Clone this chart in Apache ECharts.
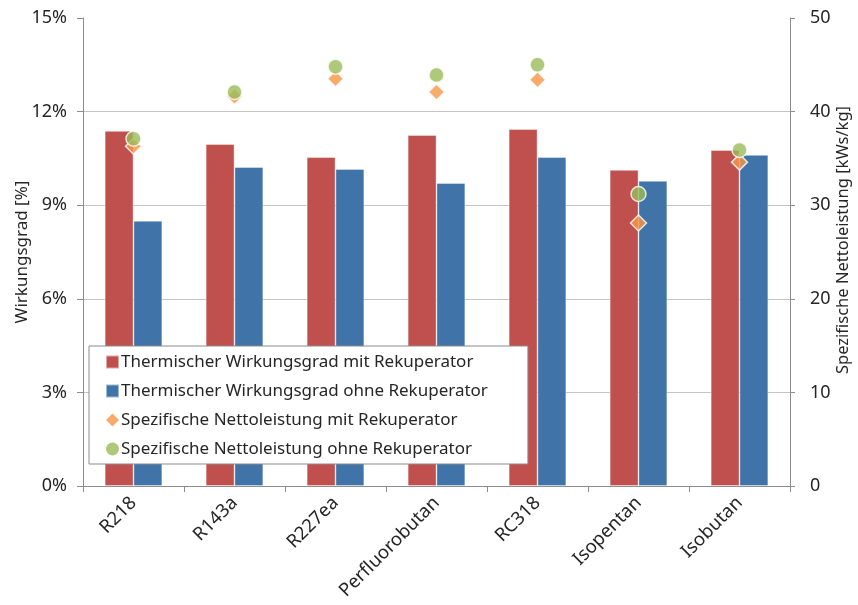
<!DOCTYPE html>
<html><head><meta charset="utf-8">
<script src="https://cdn.jsdelivr.net/npm/echarts@6/dist/echarts.min.js"></script>
<style>html,body{margin:0;padding:0;background:#fff}#c{width:858px;height:605px}</style>
</head><body><div id="c"></div>
<script>
const categories = ['R218','R143a','R227ea','Perfluorobutan','RC318','Isopentan','Isobutan'];
const effMit  = [0.1138, 0.1096, 0.1054, 0.1125, 0.1144, 0.1013, 0.1077];
const effOhne = [0.0850, 0.1022, 0.1016, 0.0971, 0.1054, 0.0978, 0.1061];
const powMit  = [36.3, 41.6, 43.5, 42.1, 43.4, 28.1, 34.6];
const powOhne = [37.1, 42.1, 44.8, 43.9, 45.0, 31.2, 35.9];
const leftTicks = {min: 0, max: 0.15, interval: 0.03};
const rightTicks = {min: 0, max: 50, interval: 10};
const names = ['Thermischer Wirkungsgrad mit Rekuperator','Thermischer Wirkungsgrad ohne Rekuperator','Spezifische Nettoleistung mit Rekuperator','Spezifische Nettoleistung ohne Rekuperator'];

const FONT = 'Noto Sans';
const TXT = '#262626';
const chart = echarts.init(document.getElementById('c'));
chart.setOption({
  animation: false,
  textStyle: {fontFamily: FONT},
  grid: {left: 83, right: 68, top: 18, bottom: 119, containLabel: false, outerBoundsMode: 'none'},
  legend: {
    orient: 'vertical', left: 89, top: 346,
    backgroundColor: '#fff', borderColor: '#8c8c8c', borderWidth: 1,
    padding: [7, 40, 6, 16], itemGap: 11, itemWidth: 13, itemHeight: 13,
    textStyle: {fontFamily: FONT, fontSize: 17, lineHeight: 18, color: TXT, padding: [0,0,0,-3]},
    data: [
      {name: names[0], icon: 'rect'},
      {name: names[1], icon: 'rect'},
      {name: names[2], icon: 'diamond', itemStyle: {borderWidth: 0}},
      {name: names[3], icon: 'circle', itemStyle: {borderWidth: 0}}
    ],
    z: 10
  },
  xAxis: {
    type: 'category', data: categories,
    axisLine: {lineStyle: {color: '#8c8c8c'}},
    axisTick: {show: true, length: 6, lineStyle: {color: '#8c8c8c'}},
    axisLabel: {rotate: 45, fontSize: 18.5, color: TXT, fontFamily: FONT, margin: 14}
  },
  yAxis: [
    {
      type: 'value', ...leftTicks, position: 'left',
      name: 'Wirkungsgrad [%]', nameLocation: 'middle', nameGap: 52, nameRotate: 90, nameMoveOverlap: false,
      nameTextStyle: {fontSize: 17, color: TXT, fontFamily: FONT},
      axisLine: {show: true, lineStyle: {color: '#8c8c8c'}},
      axisTick: {show: true, length: 6, lineStyle: {color: '#8c8c8c'}},
      axisLabel: {fontSize: 18, color: TXT, fontFamily: FONT, margin: 16,
        formatter: v => Math.round(v * 100) + '%'},
      splitLine: {show: true, showMaxLine: false, lineStyle: {color: '#c4c4c4', width: 1}}
    },
    {
      type: 'value', ...rightTicks, position: 'right',
      name: 'Spezifische Nettoleistung [kWs/kg]', nameLocation: 'middle', nameGap: 45, nameRotate: 90, nameMoveOverlap: false,
      nameTextStyle: {fontSize: 16.5, color: TXT, fontFamily: FONT, padding: [0, 0, 0, 24]},
      axisLine: {show: true, lineStyle: {color: '#8c8c8c'}},
      axisTick: {show: true, length: 5, lineStyle: {color: '#8c8c8c'}},
      axisLabel: {fontSize: 18, color: TXT, fontFamily: FONT, margin: 20},
      splitLine: {show: false}
    }
  ],
  series: [
    {name: names[0], type: 'bar', data: effMit, barGap: '0%', barCategoryGap: '43%',
     itemStyle: {color: '#C0504D', borderColor: 'rgba(255,255,255,0.5)', borderWidth: 0.8}},
    {name: names[1], type: 'bar', data: effOhne,
     itemStyle: {color: '#4073A8', borderColor: 'rgba(255,255,255,0.5)', borderWidth: 0.8}},
    {name: names[2], type: 'scatter', yAxisIndex: 1, data: powMit, symbol: 'diamond', symbolSize: 16,
     itemStyle: {color: '#F79646', borderColor: '#fff', borderWidth: 1.5}, z: 3},
    {name: names[3], type: 'scatter', yAxisIndex: 1, data: powOhne, symbol: 'circle', symbolSize: 15,
     itemStyle: {color: '#9BBB59', borderColor: '#fff', borderWidth: 1.5}, z: 4}
  ]
});
</script></body></html>
